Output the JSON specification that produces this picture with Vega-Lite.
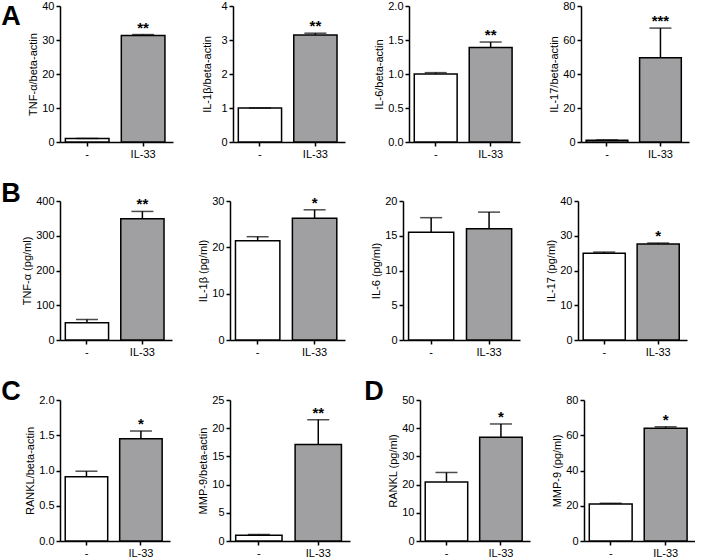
{
  "$schema": "https://vega.github.io/schema/vega-lite/v6.json",
  "background": "white",
  "padding": {"left": 1, "top": 0, "right": 0, "bottom": 0},
  "data": {"values": [
    {"panel": "A1", "group": "-", "mean": 1.0, "upper": 1.05, "sig": ""},
    {"panel": "A1", "group": "IL-33", "mean": 31.3, "upper": 31.6, "sig": "**"},
    {"panel": "A2", "group": "-", "mean": 1.0, "upper": 1.0, "sig": ""},
    {"panel": "A2", "group": "IL-33", "mean": 3.15, "upper": 3.2, "sig": "**"},
    {"panel": "A3", "group": "-", "mean": 1.0, "upper": 1.02, "sig": ""},
    {"panel": "A3", "group": "IL-33", "mean": 1.39, "upper": 1.47, "sig": "**"},
    {"panel": "A4", "group": "-", "mean": 1.0, "upper": 1.2, "sig": ""},
    {"panel": "A4", "group": "IL-33", "mean": 49.5, "upper": 67.0, "sig": "***"},
    {"panel": "B1", "group": "-", "mean": 50, "upper": 59, "sig": ""},
    {"panel": "B1", "group": "IL-33", "mean": 349, "upper": 370, "sig": "**"},
    {"panel": "B2", "group": "-", "mean": 21.4, "upper": 22.3, "sig": ""},
    {"panel": "B2", "group": "IL-33", "mean": 26.3, "upper": 28.1, "sig": "*"},
    {"panel": "B3", "group": "-", "mean": 15.5, "upper": 17.6, "sig": ""},
    {"panel": "B3", "group": "IL-33", "mean": 16.0, "upper": 18.4, "sig": ""},
    {"panel": "B4", "group": "-", "mean": 25.0, "upper": 25.3, "sig": ""},
    {"panel": "B4", "group": "IL-33", "mean": 27.6, "upper": 27.9, "sig": "*"},
    {"panel": "C1", "group": "-", "mean": 0.91, "upper": 0.99, "sig": ""},
    {"panel": "C1", "group": "IL-33", "mean": 1.45, "upper": 1.56, "sig": "*"},
    {"panel": "C2", "group": "-", "mean": 1.0, "upper": 1.15, "sig": ""},
    {"panel": "C2", "group": "IL-33", "mean": 17.1, "upper": 21.5, "sig": "**"},
    {"panel": "D1", "group": "-", "mean": 20.9, "upper": 24.3, "sig": ""},
    {"panel": "D1", "group": "IL-33", "mean": 36.8, "upper": 41.5, "sig": "*"},
    {"panel": "D2", "group": "-", "mean": 21.0, "upper": 21.4, "sig": ""},
    {"panel": "D2", "group": "IL-33", "mean": 64.0, "upper": 64.8, "sig": "*"}
  ]},
  "spacing": 21,
  "vconcat": [
    {
      "title": {"text": "A", "orient": "left", "anchor": "end", "angle": 0, "align": "left", "baseline": "top", "fontSize": 27, "fontWeight": "bold", "offset": 7, "dy": 4},
      "spacing": 28,
      "hconcat": [
        {"width": 113, "height": 136, "transform": [{"filter": "datum.panel === 'A1'"}],
         "encoding": {"x": {"field": "group", "type": "nominal", "sort": ["-", "IL-33"], "scale": {"paddingInner": 0.22, "paddingOuter": 0.12, "align": 0.4}, "axis": {"title": null, "labelAngle": 0}}},
         "layer": [
           {"mark": {"type": "bar", "stroke": "black", "strokeWidth": 1.5}, "encoding": {"y": {"field": "mean", "type": "quantitative", "scale": {"domain": [0, 40], "nice": false}, "axis": {"title": "TNF-α/beta-actin", "values": [0, 10, 20, 30, 40]}}, "fill": {"field": "group", "type": "nominal", "scale": {"domain": ["-", "IL-33"], "range": ["white", "#a0a0a2"]}, "legend": null}}},
           {"mark": {"type": "rule", "color": "black", "strokeWidth": 1.5}, "encoding": {"y": {"field": "mean", "type": "quantitative", "axis": {"title": "TNF-α/beta-actin", "values": [0, 10, 20, 30, 40]}}, "y2": {"field": "upper"}}},
           {"mark": {"type": "tick", "color": "black", "thickness": 1.5, "size": 22}, "encoding": {"y": {"field": "upper", "type": "quantitative", "axis": {"title": "TNF-α/beta-actin", "values": [0, 10, 20, 30, 40]}}}},
           {"mark": {"type": "text", "fontSize": 15, "fontWeight": "bold", "baseline": "alphabetic", "dy": -2}, "encoding": {"y": {"field": "upper", "type": "quantitative", "axis": {"title": "TNF-α/beta-actin", "values": [0, 10, 20, 30, 40]}}, "text": {"field": "sig"}}}
         ]},
        {"width": 112, "height": 136, "transform": [{"filter": "datum.panel === 'A2'"}],
         "encoding": {"x": {"field": "group", "type": "nominal", "sort": ["-", "IL-33"], "scale": {"paddingInner": 0.22, "paddingOuter": 0.12, "align": 0.4}, "axis": {"title": null, "labelAngle": 0}}},
         "layer": [
           {"mark": {"type": "bar", "stroke": "black", "strokeWidth": 1.5}, "encoding": {"y": {"field": "mean", "type": "quantitative", "scale": {"domain": [0, 4], "nice": false}, "axis": {"title": "IL-1β/beta-actin", "values": [0, 1, 2, 3, 4], "titlePadding": 8}}, "fill": {"field": "group", "type": "nominal", "legend": null}}},
           {"mark": {"type": "rule", "color": "black", "strokeWidth": 1.5}, "encoding": {"y": {"field": "mean", "type": "quantitative", "axis": {"title": "IL-1β/beta-actin", "values": [0, 1, 2, 3, 4], "titlePadding": 8}}, "y2": {"field": "upper"}}},
           {"mark": {"type": "tick", "color": "black", "thickness": 1.5, "size": 22}, "encoding": {"y": {"field": "upper", "type": "quantitative", "axis": {"title": "IL-1β/beta-actin", "values": [0, 1, 2, 3, 4], "titlePadding": 8}}}},
           {"mark": {"type": "text", "fontSize": 15, "fontWeight": "bold", "baseline": "alphabetic", "dy": -2}, "encoding": {"y": {"field": "upper", "type": "quantitative", "axis": {"title": "IL-1β/beta-actin", "values": [0, 1, 2, 3, 4], "titlePadding": 8}}, "text": {"field": "sig"}}}
         ]},
        {"width": 111, "height": 136, "transform": [{"filter": "datum.panel === 'A3'"}],
         "encoding": {"x": {"field": "group", "type": "nominal", "sort": ["-", "IL-33"], "scale": {"paddingInner": 0.22, "paddingOuter": 0.12, "align": 0.4}, "axis": {"title": null, "labelAngle": 0}}},
         "layer": [
           {"mark": {"type": "bar", "stroke": "black", "strokeWidth": 1.5}, "encoding": {"y": {"field": "mean", "type": "quantitative", "scale": {"domain": [0, 2], "nice": false}, "axis": {"title": "IL-6/beta-actin", "values": [0, 0.5, 1, 1.5, 2], "format": ".1f"}}, "fill": {"field": "group", "type": "nominal", "legend": null}}},
           {"mark": {"type": "rule", "color": "black", "strokeWidth": 1.5}, "encoding": {"y": {"field": "mean", "type": "quantitative", "axis": {"title": "IL-6/beta-actin", "values": [0, 0.5, 1, 1.5, 2], "format": ".1f"}}, "y2": {"field": "upper"}}},
           {"mark": {"type": "tick", "color": "black", "thickness": 1.5, "size": 22}, "encoding": {"y": {"field": "upper", "type": "quantitative", "axis": {"title": "IL-6/beta-actin", "values": [0, 0.5, 1, 1.5, 2], "format": ".1f"}}}},
           {"mark": {"type": "text", "fontSize": 15, "fontWeight": "bold", "baseline": "alphabetic", "dy": -2}, "encoding": {"y": {"field": "upper", "type": "quantitative", "axis": {"title": "IL-6/beta-actin", "values": [0, 0.5, 1, 1.5, 2], "format": ".1f"}}, "text": {"field": "sig"}}}
         ]},
        {"width": 108, "height": 136, "transform": [{"filter": "datum.panel === 'A4'"}],
         "encoding": {"x": {"field": "group", "type": "nominal", "sort": ["-", "IL-33"], "scale": {"paddingInner": 0.22, "paddingOuter": 0.12, "align": 0.4}, "axis": {"title": null, "labelAngle": 0}}},
         "layer": [
           {"mark": {"type": "bar", "stroke": "black", "strokeWidth": 1.5}, "encoding": {"y": {"field": "mean", "type": "quantitative", "scale": {"domain": [0, 80], "nice": false}, "axis": {"title": "IL-17/beta-actin", "values": [0, 20, 40, 60, 80]}}, "fill": {"field": "group", "type": "nominal", "legend": null}}},
           {"mark": {"type": "rule", "color": "black", "strokeWidth": 1.5}, "encoding": {"y": {"field": "mean", "type": "quantitative", "axis": {"title": "IL-17/beta-actin", "values": [0, 20, 40, 60, 80]}}, "y2": {"field": "upper"}}},
           {"mark": {"type": "tick", "color": "black", "thickness": 1.5, "size": 22}, "encoding": {"y": {"field": "upper", "type": "quantitative", "axis": {"title": "IL-17/beta-actin", "values": [0, 20, 40, 60, 80]}}}},
           {"mark": {"type": "text", "fontSize": 15, "fontWeight": "bold", "baseline": "alphabetic", "dy": -2}, "encoding": {"y": {"field": "upper", "type": "quantitative", "axis": {"title": "IL-17/beta-actin", "values": [0, 20, 40, 60, 80]}}, "text": {"field": "sig"}}}
         ]}
      ]
    },
    {
      "title": {"text": "B", "orient": "left", "anchor": "end", "angle": 0, "align": "left", "baseline": "top", "fontSize": 27, "fontWeight": "bold", "offset": 1, "dy": -14},
      "spacing": 25,
      "hconcat": [
        {"width": 112, "height": 139, "transform": [{"filter": "datum.panel === 'B1'"}],
         "encoding": {"x": {"field": "group", "type": "nominal", "sort": ["-", "IL-33"], "scale": {"paddingInner": 0.22, "paddingOuter": 0.12, "align": 0.4}, "axis": {"title": null, "labelAngle": 0}}},
         "layer": [
           {"mark": {"type": "bar", "stroke": "black", "strokeWidth": 1.5}, "encoding": {"y": {"field": "mean", "type": "quantitative", "scale": {"domain": [0, 400], "nice": false}, "axis": {"title": "TNF-α (pg/ml)", "values": [0, 100, 200, 300, 400]}}, "fill": {"field": "group", "type": "nominal", "legend": null}}},
           {"mark": {"type": "rule", "color": "black", "strokeWidth": 1.5}, "encoding": {"y": {"field": "mean", "type": "quantitative", "axis": {"title": "TNF-α (pg/ml)", "values": [0, 100, 200, 300, 400]}}, "y2": {"field": "upper"}}},
           {"mark": {"type": "tick", "color": "black", "thickness": 1.5, "size": 22}, "encoding": {"y": {"field": "upper", "type": "quantitative", "axis": {"title": "TNF-α (pg/ml)", "values": [0, 100, 200, 300, 400]}}}},
           {"mark": {"type": "text", "fontSize": 15, "fontWeight": "bold", "baseline": "alphabetic", "dy": -2}, "encoding": {"y": {"field": "upper", "type": "quantitative", "axis": {"title": "TNF-α (pg/ml)", "values": [0, 100, 200, 300, 400]}}, "text": {"field": "sig"}}}
         ]},
        {"width": 115, "height": 139, "transform": [{"filter": "datum.panel === 'B2'"}],
         "encoding": {"x": {"field": "group", "type": "nominal", "sort": ["-", "IL-33"], "scale": {"paddingInner": 0.22, "paddingOuter": 0.12, "align": 0.4}, "axis": {"title": null, "labelAngle": 0}}},
         "layer": [
           {"mark": {"type": "bar", "stroke": "black", "strokeWidth": 1.5}, "encoding": {"y": {"field": "mean", "type": "quantitative", "scale": {"domain": [0, 30], "nice": false}, "axis": {"title": "IL-1β (pg/ml)", "values": [0, 10, 20, 30]}}, "fill": {"field": "group", "type": "nominal", "legend": null}}},
           {"mark": {"type": "rule", "color": "black", "strokeWidth": 1.5}, "encoding": {"y": {"field": "mean", "type": "quantitative", "axis": {"title": "IL-1β (pg/ml)", "values": [0, 10, 20, 30]}}, "y2": {"field": "upper"}}},
           {"mark": {"type": "tick", "color": "black", "thickness": 1.5, "size": 22}, "encoding": {"y": {"field": "upper", "type": "quantitative", "axis": {"title": "IL-1β (pg/ml)", "values": [0, 10, 20, 30]}}}},
           {"mark": {"type": "text", "fontSize": 15, "fontWeight": "bold", "baseline": "alphabetic", "dy": -2}, "encoding": {"y": {"field": "upper", "type": "quantitative", "axis": {"title": "IL-1β (pg/ml)", "values": [0, 10, 20, 30]}}, "text": {"field": "sig"}}}
         ]},
        {"width": 117, "height": 139, "transform": [{"filter": "datum.panel === 'B3'"}],
         "encoding": {"x": {"field": "group", "type": "nominal", "sort": ["-", "IL-33"], "scale": {"paddingInner": 0.22, "paddingOuter": 0.12, "align": 0.4}, "axis": {"title": null, "labelAngle": 0}}},
         "layer": [
           {"mark": {"type": "bar", "stroke": "black", "strokeWidth": 1.5}, "encoding": {"y": {"field": "mean", "type": "quantitative", "scale": {"domain": [0, 20], "nice": false}, "axis": {"title": "IL-6 (pg/ml)", "values": [0, 5, 10, 15, 20]}}, "fill": {"field": "group", "type": "nominal", "legend": null}}},
           {"mark": {"type": "rule", "color": "black", "strokeWidth": 1.5}, "encoding": {"y": {"field": "mean", "type": "quantitative", "axis": {"title": "IL-6 (pg/ml)", "values": [0, 5, 10, 15, 20]}}, "y2": {"field": "upper"}}},
           {"mark": {"type": "tick", "color": "black", "thickness": 1.5, "size": 22}, "encoding": {"y": {"field": "upper", "type": "quantitative", "axis": {"title": "IL-6 (pg/ml)", "values": [0, 5, 10, 15, 20]}}}},
           {"mark": {"type": "text", "fontSize": 15, "fontWeight": "bold", "baseline": "alphabetic", "dy": -2}, "encoding": {"y": {"field": "upper", "type": "quantitative", "axis": {"title": "IL-6 (pg/ml)", "values": [0, 5, 10, 15, 20]}}, "text": {"field": "sig"}}}
         ]},
        {"width": 109, "height": 139, "transform": [{"filter": "datum.panel === 'B4'"}],
         "encoding": {"x": {"field": "group", "type": "nominal", "sort": ["-", "IL-33"], "scale": {"paddingInner": 0.22, "paddingOuter": 0.12, "align": 0.4}, "axis": {"title": null, "labelAngle": 0}}},
         "layer": [
           {"mark": {"type": "bar", "stroke": "black", "strokeWidth": 1.5}, "encoding": {"y": {"field": "mean", "type": "quantitative", "scale": {"domain": [0, 40], "nice": false}, "axis": {"title": "IL-17 (pg/ml)", "values": [0, 10, 20, 30, 40]}}, "fill": {"field": "group", "type": "nominal", "legend": null}}},
           {"mark": {"type": "rule", "color": "black", "strokeWidth": 1.5}, "encoding": {"y": {"field": "mean", "type": "quantitative", "axis": {"title": "IL-17 (pg/ml)", "values": [0, 10, 20, 30, 40]}}, "y2": {"field": "upper"}}},
           {"mark": {"type": "tick", "color": "black", "thickness": 1.5, "size": 22}, "encoding": {"y": {"field": "upper", "type": "quantitative", "axis": {"title": "IL-17 (pg/ml)", "values": [0, 10, 20, 30, 40]}}}},
           {"mark": {"type": "text", "fontSize": 15, "fontWeight": "bold", "baseline": "alphabetic", "dy": -2}, "encoding": {"y": {"field": "upper", "type": "quantitative", "axis": {"title": "IL-17 (pg/ml)", "values": [0, 10, 20, 30, 40]}}, "text": {"field": "sig"}}}
         ]}
      ]
    },
    {
      "spacing": 14,
      "hconcat": [
        {
          "title": {"text": "C", "orient": "left", "anchor": "end", "angle": 0, "align": "left", "baseline": "top", "fontSize": 27, "fontWeight": "bold", "offset": 4, "dy": -15},
          "spacing": 27,
          "hconcat": [
            {"width": 110, "height": 141, "transform": [{"filter": "datum.panel === 'C1'"}],
             "encoding": {"x": {"field": "group", "type": "nominal", "sort": ["-", "IL-33"], "scale": {"paddingInner": 0.22, "paddingOuter": 0.12, "align": 0.4}, "axis": {"title": null, "labelAngle": 0}}},
             "layer": [
               {"mark": {"type": "bar", "stroke": "black", "strokeWidth": 1.5}, "encoding": {"y": {"field": "mean", "type": "quantitative", "scale": {"domain": [0, 2], "nice": false}, "axis": {"title": "RANKL/beta-actin", "values": [0, 0.5, 1, 1.5, 2], "format": ".1f"}}, "fill": {"field": "group", "type": "nominal", "legend": null}}},
               {"mark": {"type": "rule", "color": "black", "strokeWidth": 1.5}, "encoding": {"y": {"field": "mean", "type": "quantitative", "axis": {"title": "RANKL/beta-actin", "values": [0, 0.5, 1, 1.5, 2], "format": ".1f"}}, "y2": {"field": "upper"}}},
               {"mark": {"type": "tick", "color": "black", "thickness": 1.5, "size": 22}, "encoding": {"y": {"field": "upper", "type": "quantitative", "axis": {"title": "RANKL/beta-actin", "values": [0, 0.5, 1, 1.5, 2], "format": ".1f"}}}},
               {"mark": {"type": "text", "fontSize": 15, "fontWeight": "bold", "baseline": "alphabetic", "dy": -2}, "encoding": {"y": {"field": "upper", "type": "quantitative", "axis": {"title": "RANKL/beta-actin", "values": [0, 0.5, 1, 1.5, 2], "format": ".1f"}}, "text": {"field": "sig"}}}
             ]},
            {"width": 120, "height": 141, "transform": [{"filter": "datum.panel === 'C2'"}],
             "encoding": {"x": {"field": "group", "type": "nominal", "sort": ["-", "IL-33"], "scale": {"paddingInner": 0.22, "paddingOuter": 0.12, "align": 0.4}, "axis": {"title": null, "labelAngle": 0}}},
             "layer": [
               {"mark": {"type": "bar", "stroke": "black", "strokeWidth": 1.5}, "encoding": {"y": {"field": "mean", "type": "quantitative", "scale": {"domain": [0, 25], "nice": false}, "axis": {"title": "MMP-9/beta-actin", "values": [0, 5, 10, 15, 20, 25]}}, "fill": {"field": "group", "type": "nominal", "legend": null}}},
               {"mark": {"type": "rule", "color": "black", "strokeWidth": 1.5}, "encoding": {"y": {"field": "mean", "type": "quantitative", "axis": {"title": "MMP-9/beta-actin", "values": [0, 5, 10, 15, 20, 25]}}, "y2": {"field": "upper"}}},
               {"mark": {"type": "tick", "color": "black", "thickness": 1.5, "size": 22}, "encoding": {"y": {"field": "upper", "type": "quantitative", "axis": {"title": "MMP-9/beta-actin", "values": [0, 5, 10, 15, 20, 25]}}}},
               {"mark": {"type": "text", "fontSize": 15, "fontWeight": "bold", "baseline": "alphabetic", "dy": -2}, "encoding": {"y": {"field": "upper", "type": "quantitative", "axis": {"title": "MMP-9/beta-actin", "values": [0, 5, 10, 15, 20, 25]}}, "text": {"field": "sig"}}}
             ]}
          ]
        },
        {
          "title": {"text": "D", "orient": "left", "anchor": "end", "angle": 0, "align": "left", "baseline": "top", "fontSize": 27, "fontWeight": "bold", "offset": 4, "dy": -15},
          "spacing": 21,
          "hconcat": [
            {"width": 110, "height": 141, "transform": [{"filter": "datum.panel === 'D1'"}],
             "encoding": {"x": {"field": "group", "type": "nominal", "sort": ["-", "IL-33"], "scale": {"paddingInner": 0.22, "paddingOuter": 0.12, "align": 0.4}, "axis": {"title": null, "labelAngle": 0}}},
             "layer": [
               {"mark": {"type": "bar", "stroke": "black", "strokeWidth": 1.5}, "encoding": {"y": {"field": "mean", "type": "quantitative", "scale": {"domain": [0, 50], "nice": false}, "axis": {"title": "RANKL (pg/ml)", "values": [0, 10, 20, 30, 40, 50]}}, "fill": {"field": "group", "type": "nominal", "legend": null}}},
               {"mark": {"type": "rule", "color": "black", "strokeWidth": 1.5}, "encoding": {"y": {"field": "mean", "type": "quantitative", "axis": {"title": "RANKL (pg/ml)", "values": [0, 10, 20, 30, 40, 50]}}, "y2": {"field": "upper"}}},
               {"mark": {"type": "tick", "color": "black", "thickness": 1.5, "size": 22}, "encoding": {"y": {"field": "upper", "type": "quantitative", "axis": {"title": "RANKL (pg/ml)", "values": [0, 10, 20, 30, 40, 50]}}}},
               {"mark": {"type": "text", "fontSize": 15, "fontWeight": "bold", "baseline": "alphabetic", "dy": -2}, "encoding": {"y": {"field": "upper", "type": "quantitative", "axis": {"title": "RANKL (pg/ml)", "values": [0, 10, 20, 30, 40, 50]}}, "text": {"field": "sig"}}}
             ]},
            {"width": 111, "height": 141, "transform": [{"filter": "datum.panel === 'D2'"}],
             "encoding": {"x": {"field": "group", "type": "nominal", "sort": ["-", "IL-33"], "scale": {"paddingInner": 0.22, "paddingOuter": 0.12, "align": 0.4}, "axis": {"title": null, "labelAngle": 0}}},
             "layer": [
               {"mark": {"type": "bar", "stroke": "black", "strokeWidth": 1.5}, "encoding": {"y": {"field": "mean", "type": "quantitative", "scale": {"domain": [0, 80], "nice": false}, "axis": {"title": "MMP-9 (pg/ml)", "values": [0, 20, 40, 60, 80]}}, "fill": {"field": "group", "type": "nominal", "legend": null}}},
               {"mark": {"type": "rule", "color": "black", "strokeWidth": 1.5}, "encoding": {"y": {"field": "mean", "type": "quantitative", "axis": {"title": "MMP-9 (pg/ml)", "values": [0, 20, 40, 60, 80]}}, "y2": {"field": "upper"}}},
               {"mark": {"type": "tick", "color": "black", "thickness": 1.5, "size": 22}, "encoding": {"y": {"field": "upper", "type": "quantitative", "axis": {"title": "MMP-9 (pg/ml)", "values": [0, 20, 40, 60, 80]}}}},
               {"mark": {"type": "text", "fontSize": 15, "fontWeight": "bold", "baseline": "alphabetic", "dy": -2}, "encoding": {"y": {"field": "upper", "type": "quantitative", "axis": {"title": "MMP-9 (pg/ml)", "values": [0, 20, 40, 60, 80]}}, "text": {"field": "sig"}}}
             ]}
          ]
        }
      ]
    }
  ],
  "config": {
    "font": "Liberation Sans",
    "view": {"stroke": null},
    "legend": {"disable": true},
    "title": {"color": "black", "font": "Liberation Sans"},
    "axis": {"domainColor": "black", "domainWidth": 1.5, "tickColor": "black", "tickWidth": 1.5, "tickSize": 4, "labelColor": "black", "labelFontSize": 11, "labelFont": "Liberation Sans", "labelOverlap": false, "titleColor": "black", "titleFontSize": 11, "titleFont": "Liberation Sans", "titleFontWeight": "normal", "grid": false, "labelPadding": 2, "titlePadding": 3},
    "axisX": {"labelAngle": 0}
  }
}
